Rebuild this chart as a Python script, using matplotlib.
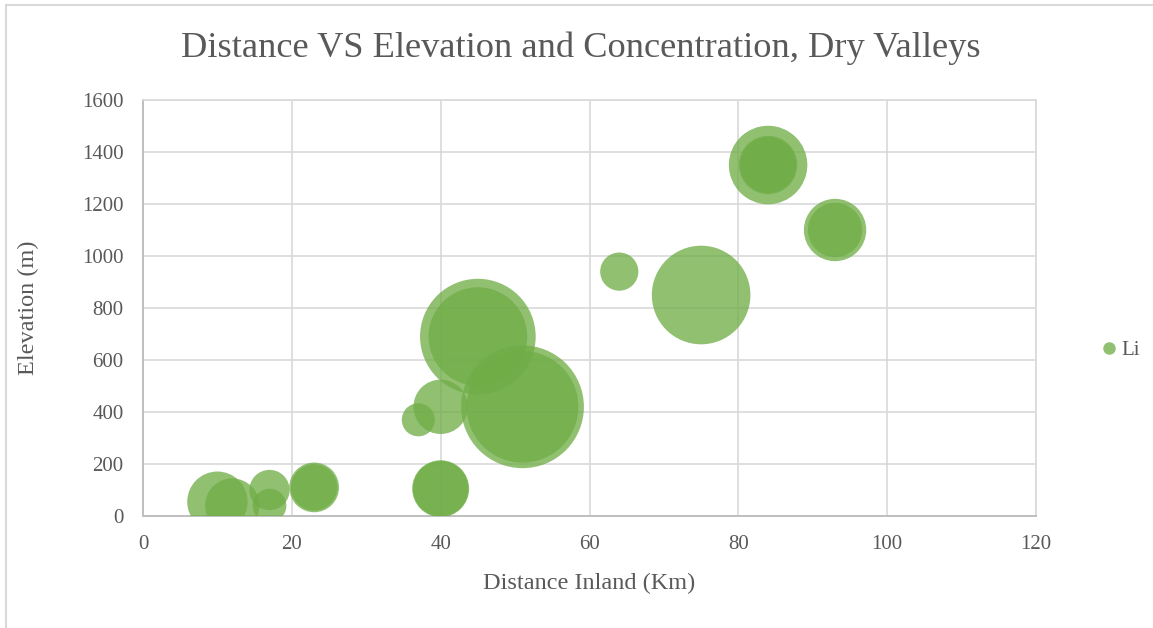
import matplotlib.pyplot as plt
from matplotlib.lines import Line2D
import matplotlib.patches as patches

# Li samples: distance inland (km), elevation (m), concentration (bubble size)
distance = [10, 12, 17, 17, 23, 23, 37, 40, 40, 40, 45, 45, 51, 51, 64, 75, 84, 84, 84, 93, 93]
elevation = [55, 40, 100, 40, 110, 110, 370, 105, 105, 420, 690, 690, 420, 420, 940, 850,
             1350, 1350, 1350, 1100, 1100]
li_conc = [9.0, 7.3, 4.0, 2.8, 6.1, 5.3, 2.7, 8.0, 7.6, 7.3, 33.0, 24.0, 37.2, 30.8, 3.6, 24.0,
           15.2, 8.4, 7.6, 9.6, 7.3]

x_ticks = [0, 20, 40, 60, 80, 100, 120]
y_ticks = [0, 200, 400, 600, 800, 1000, 1200, 1400, 1600]

GREEN = "#70AD47"
TEXT = "#595959"
GRID = "#D9D9D9"
plt.rcParams["font.family"] = ["Liberation Serif", "DejaVu Serif"]

W, H = 1153, 628
fig = plt.figure(figsize=(W / 100, H / 100), dpi=100)
ax = fig.add_axes([143 / W, 1 - 516 / H, (1036 - 143) / W, (516 - 100) / H])

# bubble area proportional to concentration
size_scale = 210.0
ax.scatter(distance, elevation, s=[c * size_scale for c in li_conc], color=GREEN,
           alpha=0.77, linewidths=0, zorder=3)

ax.set_xlim(0, 120)
ax.set_ylim(0, 1600)
ax.set_xticks(x_ticks)
ax.set_yticks(y_ticks)
ax.grid(True, color=GRID, linewidth=1.2, zorder=0)
ax.set_axisbelow(True)
ax.tick_params(length=0, labelsize=15, labelcolor=TEXT)
ax.tick_params(axis="x", pad=14)
ax.tick_params(axis="y", pad=14)
for side in ["top", "right"]:
    ax.spines[side].set_color(GRID)
    ax.spines[side].set_linewidth(1.2)
for side in ["bottom", "left"]:
    ax.spines[side].set_color("#BFBFBF")
    ax.spines[side].set_linewidth(1.4)

fig.text(581 / W, 1 - 57 / H, "Distance VS Elevation and Concentration, Dry Valleys",
         fontsize=26.2, color=TEXT, ha="center", va="baseline")
fig.text(589.5 / W, 1 - 589 / H, "Distance Inland (Km)", fontsize=17.5, color=TEXT,
         ha="center", va="baseline")
fig.text(28 / W, 1 - 308 / H, "Elevation (m)", fontsize=17.5, color=TEXT,
         ha="center", va="center", rotation=90)

handle = Line2D([], [], marker="o", ls="", color=GREEN, alpha=0.77, markersize=9,
                markeredgewidth=0)
fig.legend(handles=[handle], labels=["Li"], loc="center left",
           bbox_to_anchor=(1090 / W, 1 - 350 / H), frameon=False, fontsize=15,
           labelcolor=TEXT, handlelength=0.8, handletextpad=0.2, borderpad=0)

# chart area border
fig.patches.append(patches.Rectangle((6 / W, -0.05), 1.0, 1 - 5.5 / H + 0.05,
                                     transform=fig.transFigure, fill=False,
                                     edgecolor=GRID, linewidth=1.5))

fig.savefig("out.png", dpi=100)
